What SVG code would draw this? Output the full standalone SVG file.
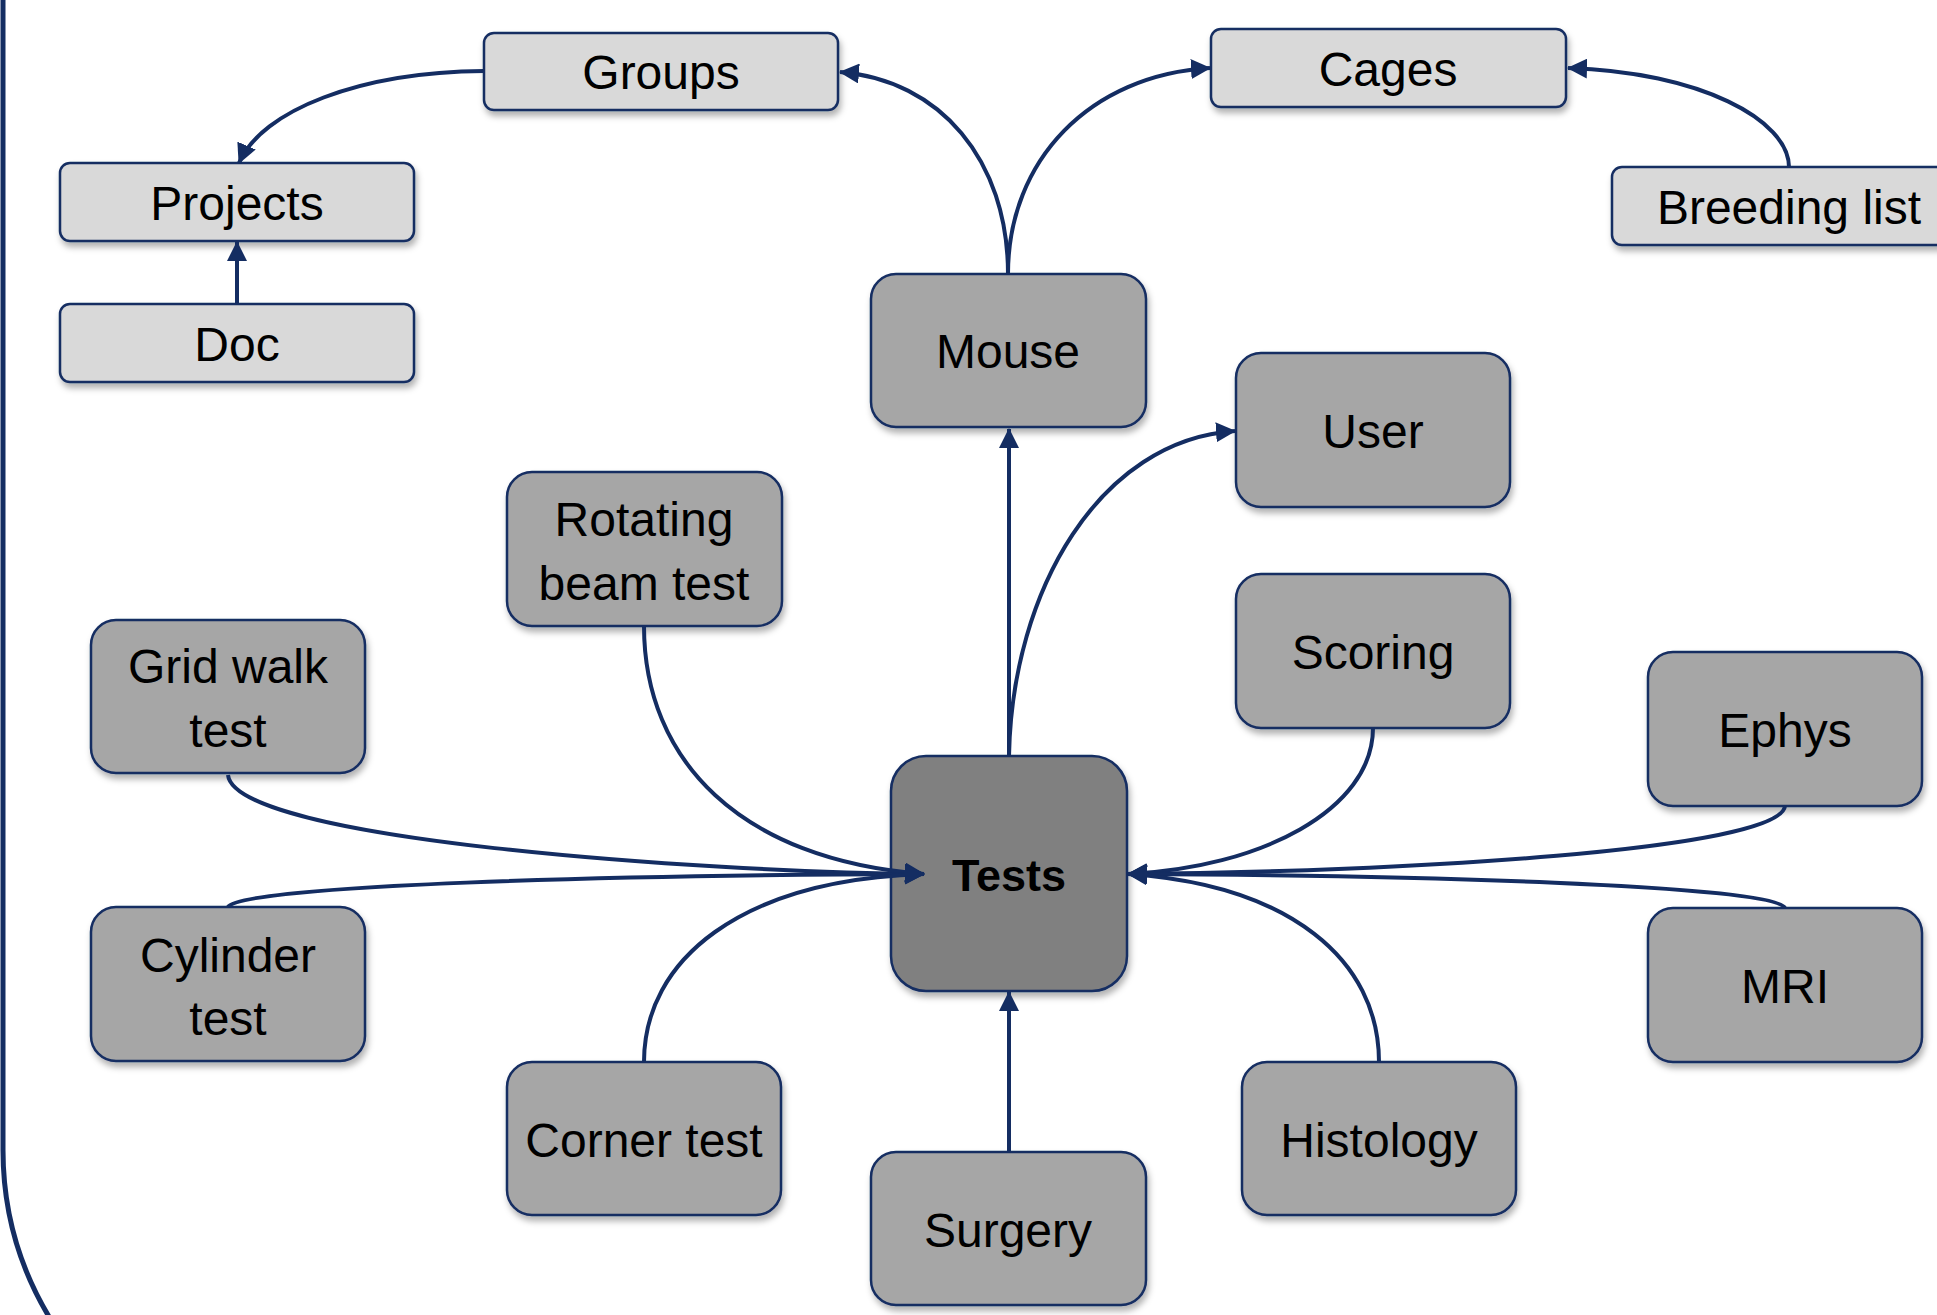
<svg xmlns="http://www.w3.org/2000/svg" width="1937" height="1315" viewBox="0 0 1937 1315">
<defs>
<filter id="sh" x="-10%" y="-10%" width="130%" height="140%">
<feDropShadow dx="2" dy="5" stdDeviation="3" flood-color="#000" flood-opacity="0.3"/>
</filter>
<marker id="ah" markerUnits="userSpaceOnUse" markerWidth="22" markerHeight="20" refX="19" refY="10" orient="auto">
<path d="M0,0 L20,10 L0,20 z" fill="#142d62"/>
</marker>
<style>
.lt{fill:#d9d9d9;stroke:#142d62;stroke-width:2.5;filter:url(#sh)}
.md{fill:#a6a6a6;stroke:#142d62;stroke-width:2.5;filter:url(#sh)}
.dk{fill:#808080;stroke:#142d62;stroke-width:2.5;filter:url(#sh)}
text{font-family:"Liberation Sans",Arial,sans-serif;font-size:48px;fill:#000;text-anchor:middle}
.b{font-weight:bold;font-size:45px}
.c{fill:none;stroke:#142d62;stroke-width:4;marker-end:url(#ah)}
</style>
</defs>
<rect width="1937" height="1315" fill="#fff"/>
<path d="M3,-5 V1150 A325,325 0 0 0 51,1320" fill="none" stroke="#142d62" stroke-width="5"/>

<g id="node-groups"><rect class="lt" x="484" y="33" width="354" height="77" rx="10"/><text x="661" y="89">Groups</text></g>
<g id="node-projects"><rect class="lt" x="60" y="163" width="354" height="78" rx="10"/><text x="237" y="220">Projects</text></g>
<g id="node-doc"><rect class="lt" x="60" y="304" width="354" height="78" rx="10"/><text x="237" y="361">Doc</text></g>
<g id="node-cages"><rect class="lt" x="1211" y="29" width="355" height="78" rx="10"/><text x="1388" y="86">Cages</text></g>
<g id="node-breeding"><rect class="lt" x="1612" y="167" width="355" height="78" rx="10"/><text x="1789" y="224">Breeding list</text></g>
<g id="node-mouse"><rect class="md" x="871" y="274" width="275" height="153" rx="25"/><text x="1008" y="368">Mouse</text></g>
<g id="node-user"><rect class="md" x="1236" y="353" width="274" height="154" rx="25"/><text x="1373" y="448">User</text></g>
<g id="node-rotating"><rect class="md" x="507" y="472" width="275" height="154" rx="25"/><text x="644" y="536">Rotating</text><text x="644" y="600">beam test</text></g>
<g id="node-gridwalk"><rect class="md" x="91" y="620" width="274" height="153" rx="25"/><text x="228" y="683">Grid walk</text><text x="228" y="747">test</text></g>
<g id="node-scoring"><rect class="md" x="1236" y="574" width="274" height="154" rx="25"/><text x="1373" y="669">Scoring</text></g>
<g id="node-ephys"><rect class="md" x="1648" y="652" width="274" height="154" rx="25"/><text x="1785" y="747">Ephys</text></g>
<g id="node-tests"><rect class="dk" x="891" y="756" width="236" height="235" rx="35"/><text class="b" x="1009" y="891">Tests</text></g>
<g id="node-cylinder"><rect class="md" x="91" y="907" width="274" height="154" rx="25"/><text x="228" y="972">Cylinder</text><text x="228" y="1035">test</text></g>
<g id="node-mri"><rect class="md" x="1648" y="908" width="274" height="154" rx="25"/><text x="1785" y="1003">MRI</text></g>
<g id="node-corner"><rect class="md" x="507" y="1062" width="274" height="153" rx="25"/><text x="644" y="1157">Corner test</text></g>
<g id="node-histology"><rect class="md" x="1242" y="1062" width="274" height="153" rx="25"/><text x="1379" y="1157">Histology</text></g>
<g id="node-surgery"><rect class="md" x="871" y="1152" width="275" height="153" rx="25"/><text x="1008" y="1247">Surgery</text></g>

<g id="connectors">
<path class="c" d="M484,71 C 360,72 262,110 239,163"/>
<path class="c" d="M237,304 V242"/>
<path class="c" d="M1008,274 C 1008,160 940,80 840,72"/>
<path class="c" d="M1008,274 C 1008,160 1090,75 1210,68"/>
<path class="c" d="M1789,167 C 1789,120 1700,72 1568,68"/>
<path class="c" d="M1009,756 V429"/>
<path class="c" d="M1009,756 C 1012,590 1100,440 1235,431"/>
<path class="c" d="M228,775 C 235,840 700,872 924,874"/>
<path class="c" d="M644,626 C 644,760 740,860 924,874"/>
<path class="c" d="M228,907 C 240,885 620,875 924,874"/>
<path class="c" d="M644,1062 C 644,960 740,880 924,874"/>
<path class="c" d="M1373,728 C 1373,810 1260,868 1128,874"/>
<path class="c" d="M1785,806 C 1780,850 1400,872 1128,874"/>
<path class="c" d="M1785,908 C 1775,885 1400,875 1128,874"/>
<path class="c" d="M1379,1062 C 1379,960 1290,885 1128,874"/>
<path class="c" d="M1009,1152 V992"/>
</g>
</svg>
